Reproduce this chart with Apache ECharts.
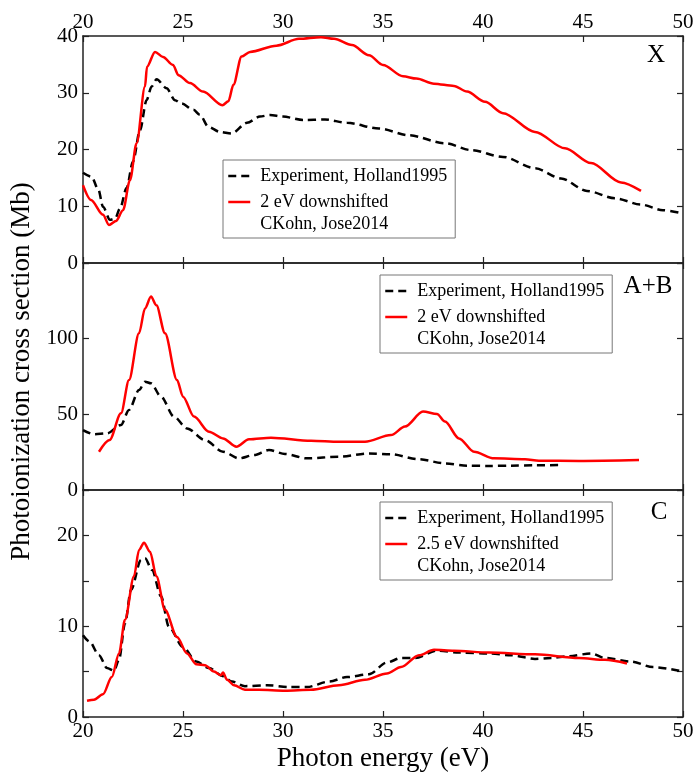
<!DOCTYPE html>
<html>
<head>
<meta charset="utf-8">
<script src="https://cdn.jsdelivr.net/npm/echarts@6/dist/echarts.min.js"></script>
<style>
  html, body { margin: 0; padding: 0; background: #fff; }
  #chart { width: 697px; height: 778px; }
</style>
</head>
<body>
<div id="chart"></div>
<script>
// panel X
var xExpX = [20, 20.43, 20.77, 21.0, 21.35, 21.6, 21.85, 22.18, 22.5, 22.85, 23.18, 23.43, 23.68, 24.18, 24.6, 24.93, 25.52, 25.85, 26.27, 26.85, 27.43, 28.2, 28.85, 29.35, 30.0, 31.0, 32.1, 33.2, 34.8, 36.3, 38.1, 39.4, 41.0, 42.6, 43.9, 45.2, 46.6, 47.9, 49.0, 50];
var yExpX = [15.9, 15.2, 12.9, 9.9, 7.6, 7.8, 9.6, 13.2, 17.9, 23.4, 28.7, 31.1, 32.4, 30.8, 28.7, 28.1, 27.0, 26.1, 24.0, 23.1, 22.8, 24.7, 25.8, 26.1, 25.8, 25.2, 25.3, 24.7, 23.7, 22.5, 21.1, 19.9, 18.7, 16.7, 14.9, 12.7, 11.4, 10.3, 9.3, 8.7];
var xThX = [20, 20.4, 21.0, 21.3, 21.65, 22.0, 22.35, 22.68, 23.1, 23.2, 23.6, 24.0, 24.5, 24.77, 25.35, 26.0, 26.97, 27.27, 27.52, 27.93, 28.35, 29.67, 30.8, 31.9, 32.55, 33.45, 34.3, 35.0, 36.0, 36.67, 37.55, 38.55, 39.2, 40.1, 41.0, 42.6, 44.1, 45.4, 46.9, 47.9];
var yThX = [13.7, 11.1, 8.5, 6.7, 7.4, 9.3, 14.6, 21.1, 31.1, 34.6, 37.2, 36.3, 34.9, 33.1, 31.7, 30.2, 27.8, 28.5, 31.4, 36.4, 37.2, 38.3, 39.5, 39.8, 39.5, 38.4, 36.6, 34.9, 32.9, 32.5, 31.6, 31.2, 30.2, 28.4, 26.4, 23.1, 20.2, 17.6, 14.2, 12.7];

// panel A+B
var xExpAB = [20, 20.55, 21.2, 21.9, 22.3, 22.8, 23.1, 23.4, 23.9, 24.55, 25.2, 26.1, 27.0, 27.8, 28.55, 29.3, 30.1, 31.2, 32.8, 34.3, 35.4, 36.8, 38.1, 39.2, 40.3, 41.4, 42.6, 44.0];
var yExpAB = [39.6, 36.8, 37.4, 43, 52.9, 66, 71.6, 70.5, 61.7, 48.5, 40.7, 33, 25.3, 20.9, 23.1, 26.4, 23.8, 20.9, 22, 24.2, 23.6, 20.3, 17.6, 16.1, 15.9, 16.1, 16.3, 16.5];
var xThAB = [20.8, 21.33, 21.9, 22.3, 22.8, 23.1, 23.4, 23.67, 24.1, 24.7, 25.0, 25.55, 26.3, 27.0, 27.67, 28.3, 29.4, 31.4, 32.8, 34.1, 35.4, 36.1, 37.0, 37.7, 38.1, 38.8, 39.55, 40.55, 42.1, 42.8, 44.8, 47.8];
var yThAB = [25.3, 33, 50.7, 72.7, 103.5, 120, 127.8, 122, 103.5, 72.7, 61.7, 48.5, 38.5, 34.1, 28.6, 33.5, 34.6, 32.6, 31.9, 31.9, 36.3, 41.9, 51.8, 50.2, 45.2, 34.1, 25.3, 20.9, 20.3, 19.4, 19.2, 19.8];

// panel C
var xExpC = [20, 20.33, 20.8, 21.2, 21.55, 21.8, 22.1, 22.4, 22.9, 23.1, 23.45, 23.9, 24.3, 25.0, 25.67, 26.3, 27.0, 27.45, 28.1, 29.2, 30.3, 31.2, 32.3, 33.2, 34.3, 35.2, 35.9, 36.6, 37.7, 38.8, 40.3, 41.4, 42.6, 43.4, 44.3, 45.4, 46.1, 47.4, 48.5, 50];
var yExpC = [9.0, 8.3, 6.8, 5.4, 5.1, 6.3, 10.3, 14.0, 17.3, 17.5, 16.2, 13.3, 9.9, 7.7, 6.1, 5.4, 4.5, 3.9, 3.4, 3.5, 3.3, 3.3, 3.9, 4.4, 4.7, 6.0, 6.5, 6.5, 7.3, 7.1, 7.0, 6.8, 6.4, 6.5, 6.7, 7.0, 6.5, 6.1, 5.5, 5.0];
var xThC = [20.2, 20.55, 21.0, 21.44, 21.8, 22.1, 22.55, 22.8, 23.05, 23.35, 23.67, 24.1, 24.7, 25.2, 25.67, 26.1, 26.55, 26.9, 27.0, 27.2, 27.55, 28.1, 28.8, 30.1, 31.4, 32.8, 34.1, 35.2, 35.9, 36.8, 37.55, 38.55, 40.3, 42.6, 44.8, 46.1, 47.2];
var yThC = [1.8, 1.9, 2.5, 4.4, 7.0, 10.7, 15.5, 18.4, 19.2, 18.2, 15.5, 11.8, 8.8, 7.0, 5.8, 5.7, 5.0, 4.6, 4.9, 4.1, 3.5, 3.0, 3.0, 2.9, 3.0, 3.5, 4.1, 4.8, 5.5, 6.8, 7.4, 7.3, 7.1, 6.9, 6.5, 6.3, 5.9];

var xTicks = [20, 25, 30, 35, 40, 45, 50];
var expName = 'Experiment, Holland1995';
var thNameX = '2 eV downshifted\nCKohn, Jose2014';
var thNameAB = '2 eV downshifted\nCKohn, Jose2014';
var thNameC = '2.5 eV downshifted\nCKohn, Jose2014';
var panelNames = ['X', 'A+B', 'C'];

function pairs(xs, ys) {
    return xs.map(function (x, i) { return [x, ys[i]]; });
}

var font = 'Liberation Serif';
var lineCol = '#222';
var gridTops = [36, 263, 490];
var panelH = 227;

var grids = gridTops.map(function (t) {
    return { left: 83, top: t, width: 600, height: panelH, containLabel: false };
});

function xAx(g, pos, labels, extra) {
    var a = {
        type: 'value', gridIndex: g, position: pos,
        min: xTicks[0], max: xTicks[xTicks.length - 1], interval: 5,
        axisLine: { show: true, onZero: false, lineStyle: { color: lineCol, width: 1.5 } },
        axisTick: { show: true, inside: true, length: 6, lineStyle: { color: lineCol, width: 1.2 } },
        axisLabel: { show: labels, color: '#000', fontFamily: font, fontSize: 21, margin: pos === 'top' ? 3 : 4 },
        splitLine: { show: false }
    };
    return Object.assign(a, extra || {});
}

function yAx(g, pos, max, interval, labelFn, extra) {
    var a = {
        type: 'value', gridIndex: g, position: pos,
        min: 0, max: max, interval: interval,
        axisLine: { show: true, onZero: false, lineStyle: { color: lineCol, width: 1.5 } },
        axisTick: { show: true, inside: true, length: 6, lineStyle: { color: lineCol, width: 1.2 } },
        axisLabel: { show: pos === 'left', color: '#000', fontFamily: font, fontSize: 21, margin: 5, formatter: labelFn },
        splitLine: { show: false }
    };
    return Object.assign(a, extra || {});
}

var fmtX = function (v) { return v; };
var fmtAB = function (v) { return v === 150 ? '' : v; };
var fmtC = function (v) { return v % 10 === 0 ? v : ''; };

var xAxes = [
    xAx(0, 'bottom', false),
    xAx(0, 'top', true),
    xAx(1, 'bottom', false),
    xAx(1, 'top', false),
    xAx(2, 'bottom', true, {
        name: 'Photon energy (eV)', nameLocation: 'middle', nameGap: 28,
        nameTextStyle: { fontFamily: font, fontSize: 27, color: '#000' }
    }),
    xAx(2, 'top', false)
];

var yAxes = [
    yAx(0, 'left', 40, 10, fmtX),
    yAx(0, 'right', 40, 10, fmtX),
    yAx(1, 'left', 150, 50, fmtAB, {
        name: 'Photoionization cross section (Mb)', nameLocation: 'middle', nameGap: 48,
        nameRotate: 90,
        nameTextStyle: { fontFamily: font, fontSize: 27, color: '#000', padding: [0, 0, 0, 10] }
    }),
    yAx(1, 'right', 150, 50, fmtAB),
    yAx(2, 'left', 25, 5, fmtC),
    yAx(2, 'right', 25, 5, fmtC)
];

function expSeries(g, xs, ys) {
    return {
        name: expName, type: 'line', xAxisIndex: g * 2, yAxisIndex: g * 2,
        data: pairs(xs, ys), symbol: 'none', smooth: 0.3, smoothMonotone: 'x',
        lineStyle: { color: '#000', width: 2.5, type: [8, 5] },
        itemStyle: { color: '#000' }, z: 3
    };
}
function thSeries(g, name, xs, ys) {
    return {
        name: name, type: 'line', xAxisIndex: g * 2, yAxisIndex: g * 2,
        data: pairs(xs, ys), symbol: 'none', smooth: 0.3, smoothMonotone: 'x',
        lineStyle: { color: '#ff0000', width: 2.5 },
        itemStyle: { color: '#ff0000' }, z: 4
    };
}

var series = [
    expSeries(0, xExpX, yExpX),
    thSeries(0, thNameX, xThX, yThX),
    expSeries(1, xExpAB, yExpAB),
    thSeries(1, thNameAB, xThAB, yThAB),
    expSeries(2, xExpC, yExpC),
    thSeries(2, thNameC, xThC, yThC)
];

function legendFmt(name) {
    var parts = name.split('\n');
    if (parts.length > 1) {
        return '{s|\u00a0}\n{t|' + parts[0] + '}\n{t|' + parts[1] + '}';
    }
    return '{t|' + name + '}';
}

function legendAt(left, top, names) {
    return {
        left: left, top: top, orient: 'vertical',
        data: names, formatter: legendFmt,
        itemWidth: 22, itemHeight: 14, itemGap: -14,
        padding: [7, 8, 5, 4],
        borderColor: '#777', borderWidth: 1, backgroundColor: '#fff',
        selectedMode: false,
        itemStyle: { opacity: 0 },
        lineStyle: { width: 2.5 },
        textStyle: {
            fontFamily: font, fontSize: 18, color: '#000',
            rich: {
                s: { fontSize: 18, lineHeight: 22, padding: [0, 0, 0, 5] },
                t: { fontFamily: font, fontSize: 18, lineHeight: 22, color: '#000', padding: [0, 0, 0, 5] }
            }
        }
    };
}

var legends = [
    legendAt(223, 160, [expName, thNameX]),
    legendAt(380, 275, [expName, thNameAB]),
    legendAt(380, 502, [expName, thNameC])
];

var labelPos = [[656, 55], [648, 286], [659, 512]];
var graphics = panelNames.map(function (t, i) {
    return {
        type: 'text', x: labelPos[i][0], y: labelPos[i][1], z: 10,
        style: { text: t, fontFamily: font, fontSize: 25, fill: '#000', align: 'center', verticalAlign: 'middle' }
    };
});

var myChart = echarts.init(document.getElementById('chart'));
myChart.setOption({
    animation: false,
    backgroundColor: '#fff',
    grid: grids,
    xAxis: xAxes,
    yAxis: yAxes,
    legend: legends,
    graphic: graphics,
    series: series
});
</script>
</body>
</html>
